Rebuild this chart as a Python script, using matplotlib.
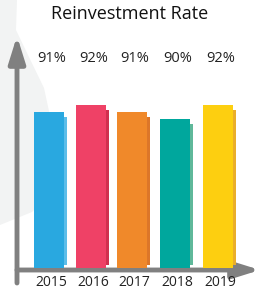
import matplotlib.pyplot as plt
from matplotlib.patches import Polygon

years = ['2015', '2016', '2017', '2018', '2019']
rates = [91, 92, 91, 90, 92]
colors = ['#29a8e0', '#ef4166', '#f0892a', '#00a79d', '#fdcf10']
shadow_colors = ['#5bbde9', '#d0304f', '#dc7629', '#5fb89a', '#eaae2a']

W, H = 260, 293
fig = plt.figure(figsize=(W / 100, H / 100), dpi=100)
plt.rcParams['font.family'] = ['Open Sans', 'DejaVu Sans']

# faint background map shape (decoration)
bg = fig.add_axes([0, 0, 1, 1])
bg.set_xlim(0, W)
bg.set_ylim(H, 0)
bg.axis('off')
shape = [(0, 0), (17, 0), (16, 30), (28, 55), (44, 88), (52, 125), (58, 160),
         (50, 195), (32, 212), (0, 225)]
bg.add_patch(Polygon(shape, closed=True, color='#f2f3f3', lw=0))

# bar axes: bottom at y=268px, 7px per percent point
base_px, top_px = 268, 40
px_per = 7.0
y0 = 90 - 149 / px_per
ax = fig.add_axes([0, (H - base_px) / H, 1, (base_px - top_px) / H])
ax.patch.set_alpha(0)
ax.set_xlim(0, W)
ax.set_ylim(y0, y0 + (base_px - top_px) / px_per)
ax.axis('off')

centers = [49, 91, 132, 175, 218]
bw = 30
for c, r, col, scol in zip(centers, rates, colors, shadow_colors):
    ax.bar(c + 2.5, r - 0.7 - (y0 + 3 / px_per), width=bw, bottom=y0 + 3 / px_per,
           color=scol, zorder=1)
    ax.bar(c, r, width=bw, color=col, zorder=2)
    ax.text(c + 3, y0 + (base_px - 58) / px_per, f'{r}%', ha='center', va='center',
            fontsize=10.5, color='#222222')

# axes arrows
bg.annotate('', xy=(260, 270), xytext=(17, 270),
            arrowprops=dict(arrowstyle='-|>,head_length=1.6,head_width=0.5',
                            color='#808080', lw=3.5, shrinkA=0, shrinkB=0))
bg.annotate('', xy=(17, 36), xytext=(17, 283),
            arrowprops=dict(arrowstyle='-|>,head_length=1.6,head_width=0.5',
                            color='#808080', lw=3.5, shrinkA=0, shrinkB=0))

for c, y in zip(centers, years):
    bg.text(c + 2.5, 283, y, ha='center', va='center', fontsize=10, color='#222222')

bg.text(130, 14, 'Reinvestment Rate', ha='center', va='center', fontsize=13,
        color='#111111')

fig.savefig('out.png', dpi=100)
